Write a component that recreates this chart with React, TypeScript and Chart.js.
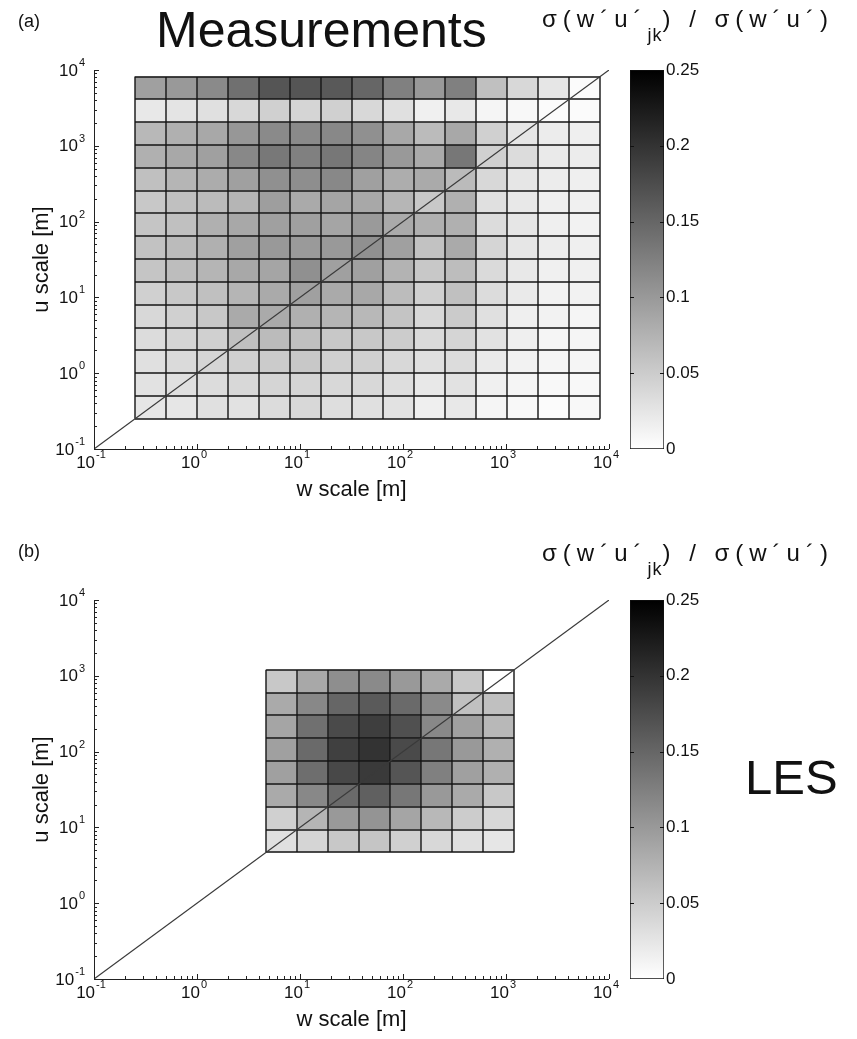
import React, { useEffect, useRef } from "react";
import { Chart, registerables } from "chart.js";
Chart.register(...registerables);

const FONT = "'Liberation Sans', Arial, Helvetica, sans-serif";

// ---- data -------------------------------------------------------------
// axis range (both axes logarithmic, metres)
const axisMin = 0.1;
const axisMax = 10000;
const decadeExponents = [-1, 0, 1, 2, 3, 4];

// dyadic bin edges of panel (a) (w and u scales share the same edges)
const measEdges = [0.25, 0.5, 1, 2, 4, 8, 16, 32, 64, 128, 256, 512, 1024, 2048, 4096, 8192];
// σ(w'u'_jk)/σ(w'u'), rows from largest u scale (top) to smallest (bottom),
// columns from smallest w scale (left) to largest (right)
const measRows = [
  [0.093, 0.100, 0.115, 0.140, 0.167, 0.167, 0.163, 0.150, 0.125, 0.100, 0.125, 0.062, 0.038, 0.025, 0.004],
  [0.023, 0.026, 0.030, 0.038, 0.046, 0.041, 0.046, 0.038, 0.030, 0.015, 0.023, 0.010, 0.007, 0.004, 0.004],
  [0.070, 0.077, 0.085, 0.102, 0.115, 0.115, 0.117, 0.109, 0.085, 0.067, 0.085, 0.046, 0.025, 0.019, 0.016],
  [0.077, 0.085, 0.093, 0.117, 0.132, 0.125, 0.133, 0.120, 0.100, 0.083, 0.133, 0.046, 0.034, 0.021, 0.019],
  [0.062, 0.073, 0.081, 0.093, 0.109, 0.111, 0.117, 0.093, 0.080, 0.083, 0.067, 0.038, 0.025, 0.019, 0.016],
  [0.054, 0.062, 0.067, 0.073, 0.095, 0.083, 0.088, 0.085, 0.072, 0.054, 0.077, 0.030, 0.023, 0.016, 0.015],
  [0.057, 0.062, 0.077, 0.085, 0.093, 0.093, 0.088, 0.099, 0.083, 0.077, 0.077, 0.034, 0.025, 0.016, 0.013],
  [0.060, 0.067, 0.077, 0.093, 0.100, 0.099, 0.100, 0.109, 0.093, 0.060, 0.083, 0.041, 0.025, 0.019, 0.016],
  [0.057, 0.065, 0.073, 0.085, 0.088, 0.109, 0.093, 0.093, 0.075, 0.054, 0.065, 0.036, 0.023, 0.015, 0.015],
  [0.046, 0.054, 0.062, 0.073, 0.083, 0.093, 0.083, 0.085, 0.066, 0.046, 0.062, 0.034, 0.021, 0.013, 0.013],
  [0.038, 0.046, 0.054, 0.083, 0.083, 0.077, 0.073, 0.070, 0.058, 0.038, 0.051, 0.030, 0.016, 0.013, 0.010],
  [0.034, 0.041, 0.046, 0.062, 0.067, 0.062, 0.054, 0.054, 0.050, 0.036, 0.041, 0.028, 0.016, 0.010, 0.010],
  [0.030, 0.036, 0.041, 0.046, 0.051, 0.054, 0.046, 0.046, 0.038, 0.030, 0.034, 0.021, 0.013, 0.010, 0.010],
  [0.028, 0.030, 0.034, 0.038, 0.041, 0.041, 0.038, 0.038, 0.032, 0.023, 0.028, 0.015, 0.010, 0.007, 0.007],
  [0.025, 0.025, 0.030, 0.028, 0.034, 0.038, 0.032, 0.030, 0.028, 0.016, 0.023, 0.010, 0.007, 0.004, 0.007],
];

// bin edges of panel (b), LES
const lesEdges = [4.6875, 9.375, 18.75, 37.5, 75, 150, 300, 600, 1200];
const lesRows = [
  [0.054, 0.085, 0.111, 0.115, 0.100, 0.083, 0.054, 0.000],
  [0.083, 0.117, 0.150, 0.162, 0.146, 0.115, 0.062, 0.062],
  [0.088, 0.140, 0.177, 0.189, 0.172, 0.117, 0.093, 0.070],
  [0.093, 0.146, 0.187, 0.200, 0.177, 0.133, 0.100, 0.077],
  [0.093, 0.142, 0.179, 0.193, 0.167, 0.125, 0.093, 0.077],
  [0.083, 0.117, 0.146, 0.156, 0.133, 0.100, 0.083, 0.054],
  [0.046, 0.073, 0.100, 0.105, 0.088, 0.070, 0.050, 0.038],
  [0.030, 0.041, 0.054, 0.057, 0.046, 0.038, 0.030, 0.025],
];

// reference line u scale = w scale
const diagonal = [
  { x: 0.1, y: 0.1 },
  { x: 10000, y: 10000 },
];

// colour bar
const colorMax = 0.25;
const colorbarTicks = [0, 0.05, 0.1, 0.15, 0.2, 0.25];

// ---- helpers ----------------------------------------------------------
function grayFor(v: number) {
  const t = Math.max(0, Math.min(1, v / colorMax));
  const g = Math.round(255 * (1 - t));
  return `rgb(${g},${g},${g})`;
}

function makeHeatmapPlugin(edges: number[], rows: number[][]) {
  return {
    id: "heatmap",
    beforeDatasetsDraw(chart: any) {
      const { ctx } = chart;
      const xs = chart.scales.x;
      const ys = chart.scales.y;
      const n = edges.length - 1;
      ctx.save();
      for (let r = 0; r < n; r++) {
        const yTop = ys.getPixelForValue(edges[n - r]);
        const yBot = ys.getPixelForValue(edges[n - r - 1]);
        for (let c = 0; c < n; c++) {
          const x0 = xs.getPixelForValue(edges[c]);
          const x1 = xs.getPixelForValue(edges[c + 1]);
          ctx.fillStyle = grayFor(rows[r][c]);
          ctx.fillRect(x0, yTop, x1 - x0, yBot - yTop);
        }
      }
      const left = xs.getPixelForValue(edges[0]);
      const right = xs.getPixelForValue(edges[n]);
      const top = ys.getPixelForValue(edges[n]);
      const bottom = ys.getPixelForValue(edges[0]);
      ctx.strokeStyle = "#141414";
      ctx.lineWidth = 1.4;
      ctx.beginPath();
      for (let i = 0; i <= n; i++) {
        const px = Math.round(xs.getPixelForValue(edges[i]));
        ctx.moveTo(px, top);
        ctx.lineTo(px, bottom);
        const py = Math.round(ys.getPixelForValue(edges[i]));
        ctx.moveTo(left, py);
        ctx.lineTo(right, py);
      }
      ctx.stroke();
      ctx.restore();
    },
  };
}

function drawPower(ctx: CanvasRenderingContext2D, exp: number, ax: number, ay: number, align: "right" | "center") {
  const base = "10";
  const ex = String(exp);
  ctx.font = `17px ${FONT}`;
  const wb = ctx.measureText(base).width;
  ctx.font = `11px ${FONT}`;
  const we = ctx.measureText(ex).width;
  const total = wb + 1 + we;
  const left = align === "right" ? ax - total : ax - total / 2;
  ctx.textAlign = "left";
  ctx.textBaseline = "middle";
  ctx.fillStyle = "#111";
  ctx.font = `17px ${FONT}`;
  ctx.fillText(base, left, ay);
  ctx.font = `11px ${FONT}`;
  ctx.fillText(ex, left + wb + 1, ay - 8);
}

const axisDecorPlugin = {
  id: "axisDecor",
  afterDraw(chart: any) {
    const { ctx, chartArea: a } = chart;
    const xs = chart.scales.x;
    const ys = chart.scales.y;
    ctx.save();
    ctx.strokeStyle = "#222";
    ctx.lineWidth = 1;
    ctx.beginPath();
    ctx.moveTo(Math.round(a.left) + 0.5, Math.round(a.top));
    ctx.lineTo(Math.round(a.left) + 0.5, Math.round(a.bottom) + 0.5);
    ctx.lineTo(Math.round(a.right), Math.round(a.bottom) + 0.5);
    for (const e of decadeExponents) {
      for (let m = 1; m <= 9; m++) {
        const v = m * Math.pow(10, e);
        if (v > axisMax * 1.0001) break;
        const len = m === 1 ? 5 : 3;
        const px = Math.round(xs.getPixelForValue(v)) + 0.5;
        const py = Math.round(ys.getPixelForValue(v)) + 0.5;
        ctx.moveTo(px, a.bottom);
        ctx.lineTo(px, a.bottom - len);
        ctx.moveTo(a.left, py);
        ctx.lineTo(a.left + len, py);
      }
    }
    ctx.stroke();
    for (const e of decadeExponents) {
      const v = Math.pow(10, e);
      drawPower(ctx, e, a.left - 9, ys.getPixelForValue(v) + 1, "right");
      drawPower(ctx, e, xs.getPixelForValue(v) - 3, a.bottom + 14, "center");
    }
    ctx.restore();
  },
};

function makePanel(canvas: HTMLCanvasElement, edges: number[], rows: number[][]) {
  return new Chart(canvas, {
    type: "scatter",
    data: {
      datasets: [
        {
          data: diagonal,
          showLine: true,
          borderColor: "#3a3a3a",
          borderWidth: 1.2,
          pointRadius: 0,
        },
      ],
    },
    options: {
      animation: false,
      responsive: false,
      maintainAspectRatio: false,
      layout: { padding: { top: 70, right: 11, left: 0, bottom: 0 } },
      plugins: { legend: { display: false }, tooltip: { enabled: false } },
      scales: {
        x: {
          type: "logarithmic",
          min: axisMin,
          max: axisMax,
          grid: { display: false },
          border: { display: false },
          ticks: { display: false },
          title: {
            display: true,
            text: "w scale [m]",
            color: "#111",
            font: { family: FONT, size: 22 },
            padding: { top: 0, bottom: 2 },
          },
          afterFit: (s: any) => {
            s.height = 56;
          },
        },
        y: {
          type: "logarithmic",
          min: axisMin,
          max: axisMax,
          grid: { display: false },
          border: { display: false },
          ticks: { display: false },
          title: {
            display: true,
            text: "u scale [m]",
            color: "#111",
            font: { family: FONT, size: 22 },
            padding: { top: 29, bottom: 0 },
          },
          afterFit: (s: any) => {
            s.width = 94;
          },
        },
      },
    } as any,
    plugins: [makeHeatmapPlugin(edges, rows), axisDecorPlugin],
  });
}

const colorbarTickPlugin = {
  id: "colorbarTicks",
  afterDatasetsDraw(chart: any) {
    const { ctx, chartArea: a } = chart;
    const ys = chart.scales.y;
    ctx.save();
    ctx.strokeStyle = "#111";
    ctx.lineWidth = 1;
    ctx.beginPath();
    for (const v of colorbarTicks) {
      if (v <= 0 || v >= colorMax) continue;
      const py = Math.round(ys.getPixelForValue(v)) + 0.5;
      ctx.moveTo(a.left, py);
      ctx.lineTo(a.left + 4, py);
      ctx.moveTo(a.right - 4, py);
      ctx.lineTo(a.right, py);
    }
    ctx.stroke();
    ctx.restore();
  },
};

function makeColorbar(canvas: HTMLCanvasElement) {
  return new Chart(canvas, {
    type: "bar",
    data: {
      labels: [""],
      datasets: [
        {
          data: [[0, colorMax]],
          backgroundColor: (c: any) => {
            const area = c.chart.chartArea;
            if (!area) return "#888";
            const g = c.chart.ctx.createLinearGradient(0, area.bottom, 0, area.top);
            g.addColorStop(0, "#ffffff");
            g.addColorStop(1, "#000000");
            return g;
          },
          borderColor: "#111",
          borderWidth: 1,
          borderSkipped: false,
          barPercentage: 1,
          categoryPercentage: 1,
        },
      ],
    },
    options: {
      animation: false,
      responsive: false,
      maintainAspectRatio: false,
      layout: { padding: { top: 70, bottom: 21, left: 30, right: 0 } },
      plugins: { legend: { display: false }, tooltip: { enabled: false } },
      scales: {
        x: { display: false },
        y: {
          position: "right",
          min: 0,
          max: colorMax,
          afterBuildTicks: (s: any) => {
            s.ticks = colorbarTicks.map((v) => ({ value: v }));
          },
          ticks: {
            padding: 2,
            color: "#111",
            font: { family: FONT, size: 17 },
            callback: (v: any) => String(Number(Number(v).toFixed(2))),
          },
          grid: { display: false, drawTicks: false },
          border: { display: false },
          afterFit: (s: any) => {
            s.width = 46;
          },
        },
      },
    } as any,
    plugins: [colorbarTickPlugin],
  });
}

export default function App() {
  const aRef = useRef<HTMLCanvasElement>(null);
  const aBarRef = useRef<HTMLCanvasElement>(null);
  const bRef = useRef<HTMLCanvasElement>(null);
  const bBarRef = useRef<HTMLCanvasElement>(null);

  useEffect(() => {
    const charts = [
      makePanel(aRef.current!, measEdges, measRows),
      makeColorbar(aBarRef.current!),
      makePanel(bRef.current!, lesEdges, lesRows),
      makeColorbar(bBarRef.current!),
    ];
    return () => charts.forEach((c) => c.destroy());
  }, []);

  const abs = (left: number, top: number, extra: any = {}) => ({ position: "absolute" as const, left, top, ...extra });
  const sigma = (top: number) => (
    <div style={abs(542, top, { fontSize: 24, lineHeight: "28px", letterSpacing: "6px", whiteSpace: "nowrap", color: "#111" })}>
      σ(w´u´<sub style={{ fontSize: 18, verticalAlign: "-0.8em", lineHeight: 0, letterSpacing: "1px" }}>jk</sub>) / σ(w´u´)
    </div>
  );

  return (
    <div
      style={{
        position: "absolute",
        left: 0,
        top: 0,
        width: 857,
        height: 1039,
        overflow: "hidden",
        background: "#fff",
        fontFamily: FONT,
        color: "#111",
      }}
    >
      <canvas ref={aRef} width={620} height={505} style={abs(0, 0, { width: 620, height: 505 })} />
      <canvas ref={aBarRef} width={110} height={470} style={abs(600, 0, { width: 110, height: 470 })} />
      <canvas ref={bRef} width={620} height={505} style={abs(0, 530, { width: 620, height: 505 })} />
      <canvas ref={bBarRef} width={110} height={470} style={abs(600, 530, { width: 110, height: 470 })} />

      <div style={abs(18, 10, { fontSize: 18, lineHeight: "22px" })}>(a)</div>
      <div style={abs(156, 3, { fontSize: 50, lineHeight: "54px" })}>Measurements</div>
      {sigma(5)}

      <div style={abs(18, 540, { fontSize: 18, lineHeight: "22px" })}>(b)</div>
      {sigma(539)}
      <div style={abs(745, 751, { fontSize: 49, lineHeight: "52px" })}>LES</div>
    </div>
  );
}
